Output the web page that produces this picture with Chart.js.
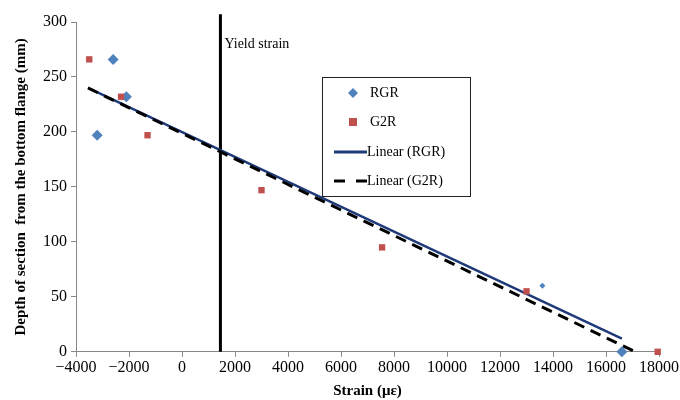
<!DOCTYPE html>
<html lang="en">
<head>
    <meta charset="UTF-8">
    <title>Strain vs depth</title>
    <style>
        body { margin: 0; padding: 0; background: #fff; }
    </style>
</head>
<body>
<canvas id="chart" width="680" height="400"></canvas>

<script src="https://cdn.jsdelivr.net/npm/chart.js"></script>
<script>
    // values
    const rgrStrain = [-2600, -3200, -2100, 13600, 16600];
    const rgrDepth  = [266, 197, 232, 60, 0];
    const rgrSize   = [5.5, 5.5, 5.5, 3, 5.5];

    const g2rStrain = [-3500, -2300, -1300, 3000, 7550, 13000, 17950];
    const g2rDepth  = [266, 232, 197, 147, 95, 55, 0];

    // trendline end points (as drawn)
    const rgrFitStrain = [-3450, 16600];
    const rgrFitDepth  = [239, 12];
    const g2rFitStrain = [-3550, 17100];
    const g2rFitDepth  = [240, 0];

    const yieldStrain = [1450, 1450];
    const yieldDepth  = [0, 307];

    const xTicks = [-4000, -2000, 0, 2000, 4000, 6000, 8000, 10000, 12000, 14000, 16000, 18000];
    const yTicks = [0, 50, 100, 150, 200, 250, 300];

    function pts(xs, ys) {
        return xs.map((x, i) => ({ x: x, y: ys[i] }));
    }

    const serif = "'Liberation Serif', 'Times New Roman', serif";

    // "Yield strain" label next to the vertical line
    const yieldLabel = {
        id: 'yieldLabel',
        afterDatasetsDraw(chart) {
            const ctx = chart.ctx;
            const x = chart.scales.x.getPixelForValue(yieldStrain[0]);
            const y = chart.scales.y.getPixelForValue(280);
            ctx.save();
            ctx.font = "14px " + serif;
            ctx.fillStyle = '#000';
            ctx.textBaseline = 'middle';
            ctx.fillText('Yield strain', x + 4, y);
            ctx.restore();
        }
    };

    // boxed legend inside the plot, like the original
    const boxLegend = {
        id: 'boxLegend',
        afterDraw(chart) {
            const ctx = chart.ctx;
            const bx = 322, by = 77, bw = 148, bh = 119;
            ctx.save();
            ctx.fillStyle = '#fff';
            ctx.fillRect(bx, by, bw, bh);
            ctx.strokeStyle = '#222';
            ctx.lineWidth = 1;
            ctx.strokeRect(bx + 0.5, by + 0.5, bw, bh);

            ctx.font = "14px " + serif;
            ctx.fillStyle = '#000';
            ctx.textBaseline = 'middle';

            // RGR diamond
            let cy = by + 16;
            ctx.fillStyle = '#4F81BD';
            ctx.beginPath();
            ctx.moveTo(bx + 31, cy - 5); ctx.lineTo(bx + 36, cy);
            ctx.lineTo(bx + 31, cy + 5); ctx.lineTo(bx + 26, cy);
            ctx.closePath(); ctx.fill();
            ctx.fillStyle = '#000';
            ctx.fillText('RGR', bx + 48, cy);

            // G2R square
            cy = by + 45;
            ctx.fillStyle = '#C0504D';
            ctx.fillRect(bx + 27, cy - 4, 8, 8);
            ctx.fillStyle = '#000';
            ctx.fillText('G2R', bx + 48, cy);

            // Linear (RGR)
            cy = by + 75;
            ctx.strokeStyle = '#1F3A78';
            ctx.lineWidth = 3;
            ctx.beginPath(); ctx.moveTo(bx + 12, cy); ctx.lineTo(bx + 45, cy); ctx.stroke();
            ctx.fillText('Linear (RGR)', bx + 45, cy);

            // Linear (G2R)
            cy = by + 104;
            ctx.strokeStyle = '#000';
            ctx.setLineDash([11, 11]);
            ctx.beginPath(); ctx.moveTo(bx + 12, cy); ctx.lineTo(bx + 45, cy); ctx.stroke();
            ctx.setLineDash([]);
            ctx.fillText('Linear (G2R)', bx + 45, cy);
            ctx.restore();
        }
    };

    new Chart(document.getElementById('chart'), {
        type: 'scatter',
        data: {
            datasets: [
                {
                    label: 'RGR',
                    data: pts(rgrStrain, rgrDepth),
                    pointStyle: 'rectRot',
                    pointRadius: rgrSize,
                    backgroundColor: '#4F81BD',
                    borderColor: '#4F81BD',
                    borderWidth: 0,
                    clip: false,
                    order: 1
                },
                {
                    label: 'G2R',
                    data: pts(g2rStrain, g2rDepth),
                    pointStyle: 'rect',
                    pointRadius: 4.5,
                    backgroundColor: '#C0504D',
                    borderColor: '#C0504D',
                    borderWidth: 0,
                    clip: false,
                    order: 0
                },
                {
                    label: 'Linear (RGR)',
                    type: 'line',
                    data: pts(rgrFitStrain, rgrFitDepth),
                    borderColor: '#1F3A78',
                    borderWidth: 2.5,
                    pointRadius: 0,
                    fill: false,
                    order: 3
                },
                {
                    label: 'Linear (G2R)',
                    type: 'line',
                    data: pts(g2rFitStrain, g2rFitDepth),
                    borderColor: '#000',
                    borderWidth: 3,
                    borderDash: [11, 7],
                    pointRadius: 0,
                    fill: false,
                    clip: false,
                    order: 2
                },
                {
                    label: 'Yield strain',
                    type: 'line',
                    data: pts(yieldStrain, yieldDepth),
                    borderColor: '#000',
                    borderWidth: 3,
                    pointRadius: 0,
                    fill: false,
                    clip: false,
                    order: 4
                }
            ]
        },
        options: {
            responsive: false,
            animation: false,
            layout: { padding: { top: 22, right: 0, left: 12, bottom: 0 } },
            plugins: {
                legend: { display: false },
                tooltip: { enabled: false }
            },
            scales: {
                x: {
                    type: 'linear',
                    min: -4000, max: 18000,
                    afterBuildTicks: axis => { axis.ticks = xTicks.map(v => ({ value: v })); },
                    ticks: {
                        color: '#000',
                        font: { family: serif, size: 16 },
                        maxRotation: 0,
                        padding: 1,
                        callback: v => v < 0 ? '\u2212' + Math.abs(v) : String(v)
                    },
                    grid: { drawOnChartArea: false, drawTicks: true, tickLength: 5, color: '#888' },
                    border: { color: '#888', width: 1 },
                    title: {
                        display: true,
                        text: 'Strain (\u03bc\u03b5)',
                        color: '#000',
                        font: { family: serif, size: 15, weight: 'bold' },
                        padding: { top: 4, bottom: 0 }
                    }
                },
                y: {
                    min: 0, max: 300,
                    afterBuildTicks: axis => { axis.ticks = yTicks.map(v => ({ value: v })); },
                    ticks: {
                        color: '#000',
                        font: { family: serif, size: 16 },
                        padding: 4
                    },
                    grid: { drawOnChartArea: false, drawTicks: true, tickLength: 5, color: '#888' },
                    border: { color: '#888', width: 1 },
                    title: {
                        display: true,
                        text: 'Depth of section  from the bottom flange (mm)',
                        color: '#000',
                        font: { family: serif, size: 15, weight: 'bold' },
                        padding: { top: 0, bottom: 9 }
                    }
                }
            }
        },
        plugins: [yieldLabel, boxLegend]
    });
</script>
</body>
</html>
